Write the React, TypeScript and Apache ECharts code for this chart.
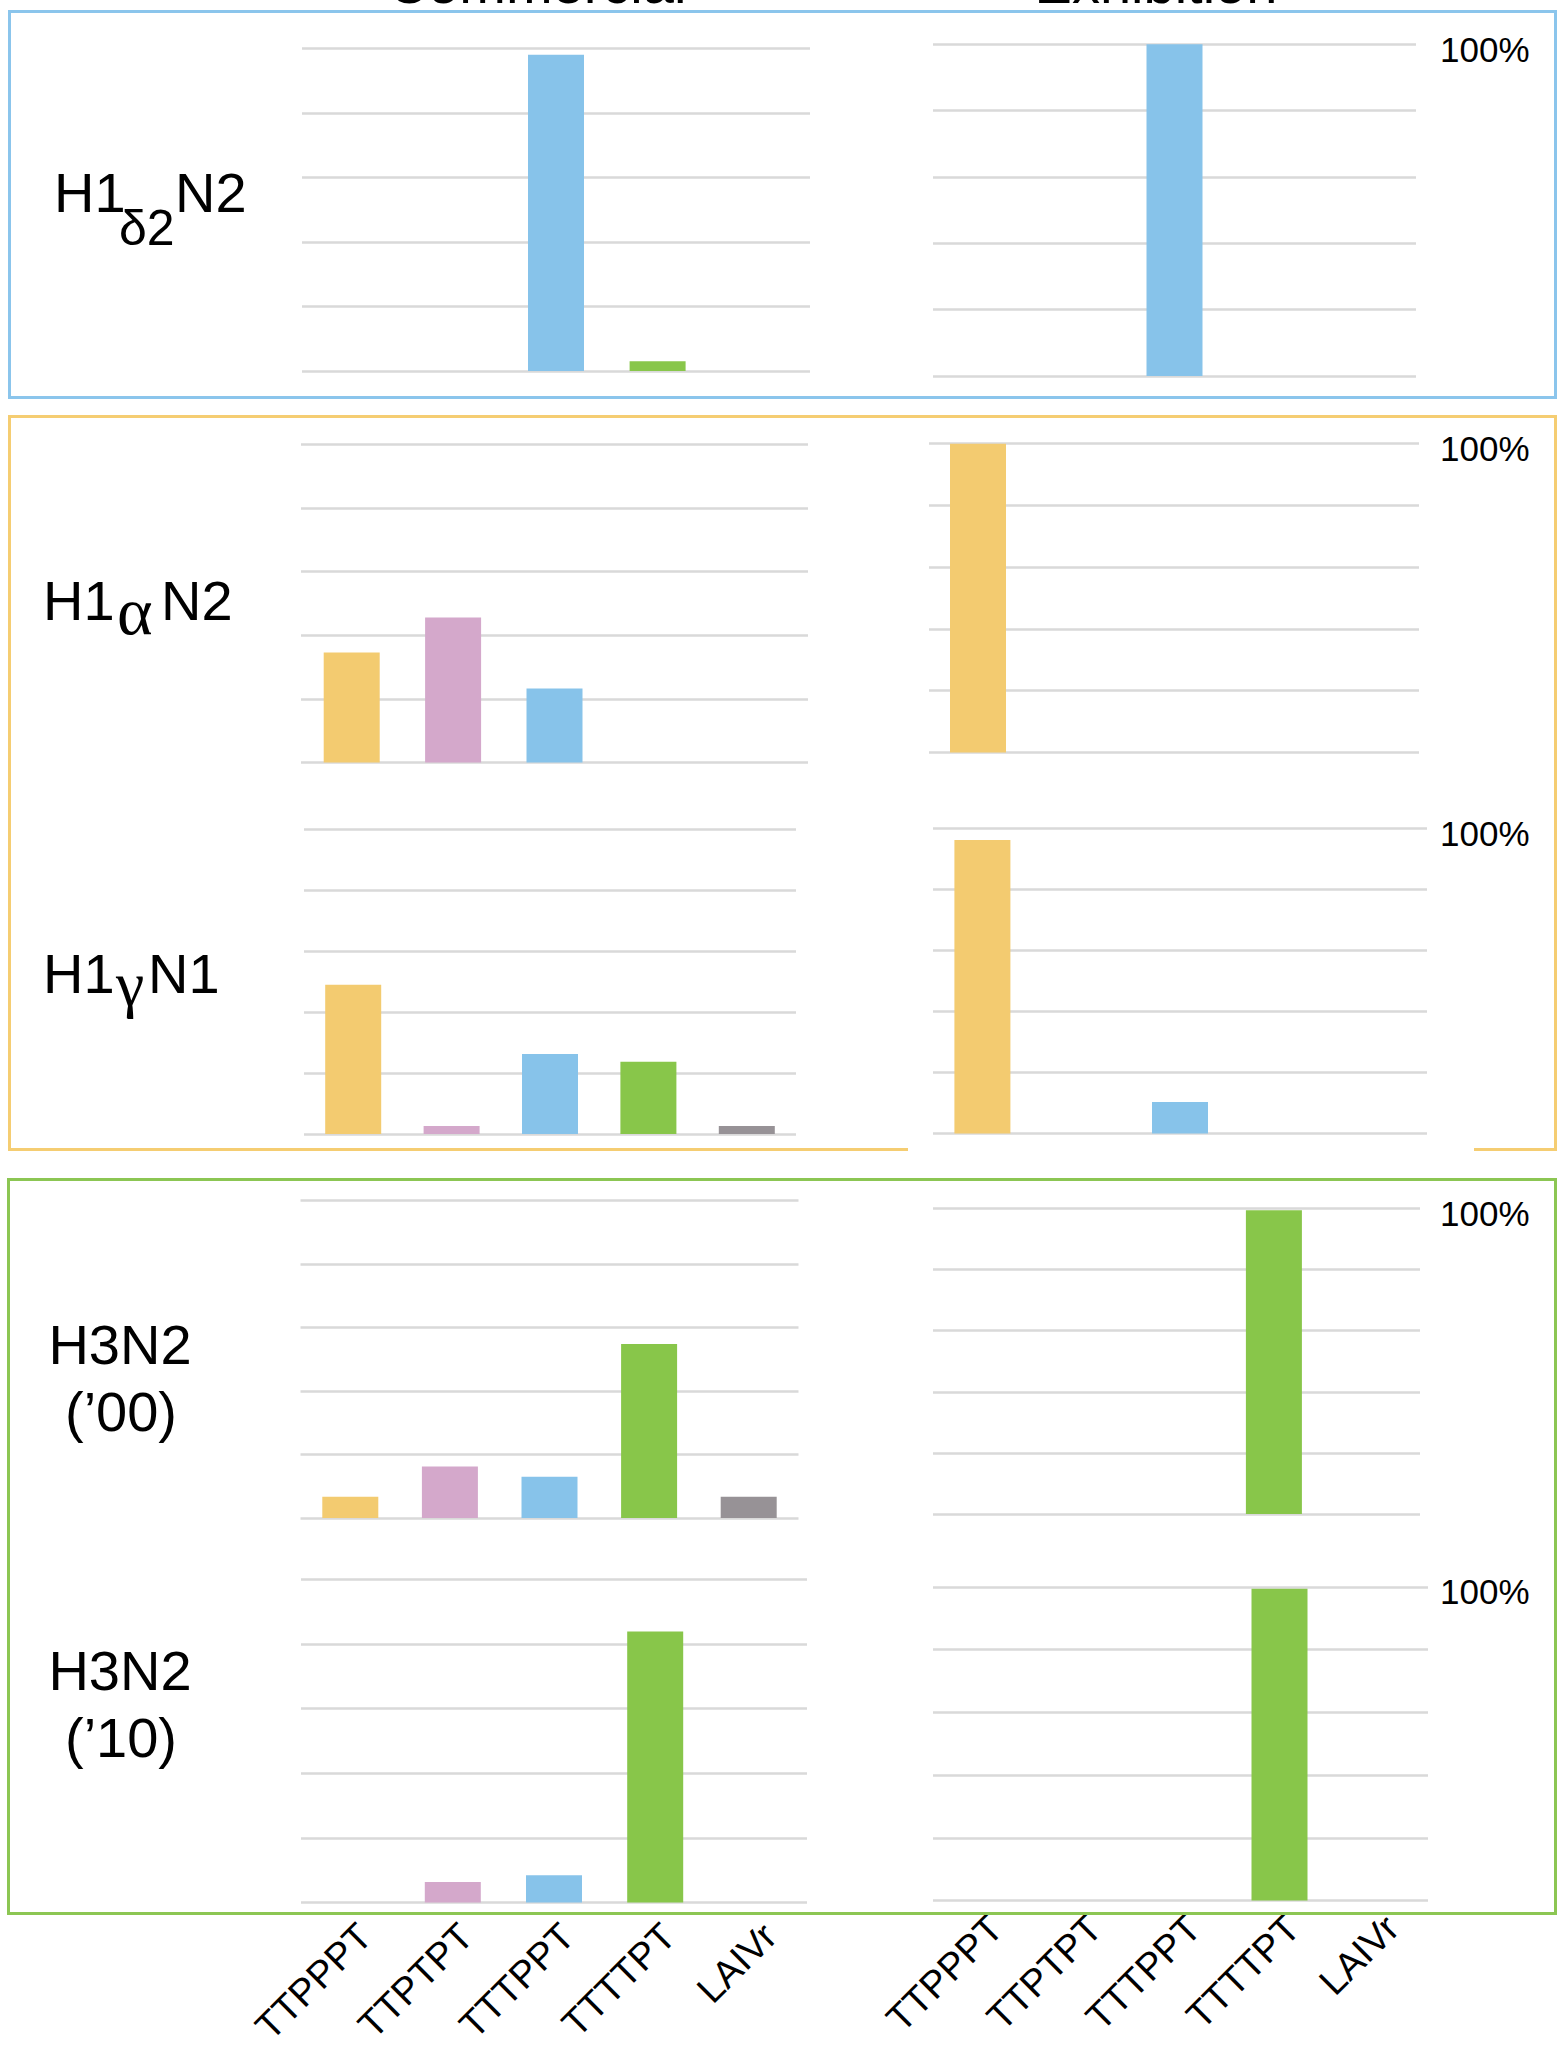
import React, { useEffect, useRef } from "react";
import * as echarts from "echarts";

// ---------- data ----------
const categories = ["TTPPPT", "TTPTPT", "TTTPPT", "TTTTPT", "LAIVr"];
const barColors = ["#F3CB70", "#D4A8CB", "#87C3EA", "#88C64A", "#979296"];
const yTicks = [0, 20, 40, 60, 80, 100];
const columnTitles = ["Commercial", "Exhibition"];

const h1d2n2Commercial = [0, 0, 98, 3, 0];
const h1d2n2Exhibition = [0, 0, 100, 0, 0];
const h1aN2Commercial = [34.6, 45.6, 23.3, 0, 0];
const h1aN2Exhibition = [100, 0, 0, 0, 0];
const h1gN1Commercial = [49, 2.6, 26.3, 23.7, 2.6];
const h1gN1Exhibition = [96.1, 0, 10.3, 0, 0];
const h3n2_00Commercial = [6.7, 16.2, 13, 54.8, 6.7];
const h3n2_00Exhibition = [0, 0, 0, 99.4, 0];
const h3n2_10Commercial = [0, 6.3, 8.4, 83.9, 0];
const h3n2_10Exhibition = [0, 0, 0, 99.4, 0];

// ---------- layout ----------
const W = 1559;
const H = 2047;
const SANS = '"Liberation Sans", Arial, Helvetica, sans-serif';
const SERIF = '"Liberation Serif", "Times New Roman", serif';

type Panel = {
  values: number[];
  left: number;
  top: number;
  width: number;
  height: number;
  exhibition: boolean;
  bottom: boolean;
  labelMargin?: number;
};

const panels: Panel[] = [
  { values: h1d2n2Commercial, left: 302, top: 48.3, width: 508, height: 322.7, exhibition: false, bottom: false },
  { values: h1d2n2Exhibition, left: 933, top: 44.3, width: 483, height: 331.7, exhibition: true, bottom: false },
  { values: h1aN2Commercial, left: 301, top: 444.2, width: 507, height: 318.4, exhibition: false, bottom: false },
  { values: h1aN2Exhibition, left: 929, top: 443.7, width: 490, height: 308.7, exhibition: true, bottom: false },
  { values: h1gN1Commercial, left: 304, top: 829.6, width: 492, height: 304.4, exhibition: false, bottom: false },
  { values: h1gN1Exhibition, left: 933, top: 828.2, width: 494, height: 305.3, exhibition: true, bottom: false },
  { values: h3n2_00Commercial, left: 300.5, top: 1200.5, width: 498, height: 317.5, exhibition: false, bottom: false },
  { values: h3n2_00Exhibition, left: 933, top: 1208.3, width: 487, height: 305.8, exhibition: true, bottom: false },
  { values: h3n2_10Commercial, left: 301, top: 1579.6, width: 506, height: 322.8, exhibition: false, bottom: true, labelMargin: 14 },
  { values: h3n2_10Exhibition, left: 933, top: 1586.9, width: 495, height: 313.6, exhibition: true, bottom: true, labelMargin: 8 },
];

// text pieces: [text, x, baseline, fontSize, family, align]
type Piece = [string, number, number, number, string, string];
const rowLabelPieces: Piece[] = [
  ["H1", 54, 212, 56, SANS, "left"],
  ["δ2", 119, 245, 50, SANS, "left"],
  ["N2", 175, 212, 56, SANS, "left"],
  ["H1", 43, 620, 56, SANS, "left"],
  ["α", 117, 634, 68, SERIF, "left"],
  ["N2", 161, 620, 56, SANS, "left"],
  ["H1", 43, 993, 56, SANS, "left"],
  ["γ", 116, 1005, 64, SERIF, "left"],
  ["N1", 148, 993, 56, SANS, "left"],
  ["H3N2", 120, 1364, 56, SANS, "center"],
  ["(’00)", 121, 1431, 56, SANS, "center"],
  ["H3N2", 120, 1690, 56, SANS, "center"],
  ["(’10)", 121, 1757, 56, SANS, "center"],
  [columnTitles[0], 537, 3, 56, SANS, "center"],
  [columnTitles[1], 1156, 3, 56, SANS, "center"],
];

function textEl(p: Piece) {
  const [text, x, baseline, fs, family, align] = p;
  const k = family === SERIF ? 0.3375 : 0.3465;
  return {
    type: "text",
    z: 10,
    style: {
      text,
      x,
      y: baseline - k * fs,
      font: `${fs}px ${family}`,
      fill: "#000000",
      textAlign: align,
      align,
      textVerticalAlign: "middle",
      verticalAlign: "middle",
    },
  };
}

function buildOption() {
  const grid = panels.map((p) => ({
    left: p.left,
    top: p.top,
    width: p.width,
    height: p.height,
    containLabel: false,
    outerBoundsMode: "none",
  }));
  const xAxis = panels.map((p, i) => ({
    type: "category",
    gridIndex: i,
    data: categories,
    boundaryGap: true,
    axisLine: { show: false },
    axisTick: { show: false },
    splitLine: { show: false },
    axisLabel: {
      show: p.bottom,
      rotate: 45,
      interval: 0,
      align: "right",
      verticalAlign: "top",
      margin: p.labelMargin ?? 15,
      fontSize: 38,
      fontFamily: SANS,
      color: "#000000",
      hideOverlap: false,
    },
  }));
  const yAxis = panels.map((p, i) => ({
    type: "value",
    gridIndex: i,
    min: yTicks[0],
    max: yTicks[yTicks.length - 1],
    interval: yTicks[1] - yTicks[0],
    position: p.exhibition ? "right" : "left",
    axisLine: { show: false },
    axisTick: { show: false },
    splitLine: { show: true, lineStyle: { color: "#D9D9D9", width: 2.5 } },
    axisLabel: {
      show: p.exhibition,
      showMaxLabel: true,
      margin: 1440 - (p.left + p.width),
      fontSize: 35,
      lineHeight: 10,
      verticalAlign: "top",
      fontFamily: SANS,
      color: "#000000",
      formatter: (v: number) => (v === 100 ? "100%" : ""),
    },
  }));
  const series = panels.map((p, i) => ({
    type: "bar",
    xAxisIndex: i,
    yAxisIndex: i,
    barWidth: 56,
    data: p.values.map((v, j) => ({ value: v, itemStyle: { color: barColors[j] } })),
  }));

  const graphic: any[] = [
    {
      type: "rect",
      z: 5,
      shape: { x: 9.5, y: 11.5, width: 1546, height: 386 },
      style: { fill: "none", stroke: "#8BC5EC", lineWidth: 3 },
    },
    {
      type: "rect",
      z: 5,
      shape: { x: 9.5, y: 416.5, width: 1546, height: 733 },
      style: { fill: "none", stroke: "#F5CD72", lineWidth: 3 },
    },
    {
      type: "rect",
      z: 6,
      shape: { x: 908, y: 1146, width: 566, height: 8 },
      style: { fill: "#FFFFFF", stroke: "none" },
    },
    {
      type: "rect",
      z: 5,
      shape: { x: 8.5, y: 1179.5, width: 1547, height: 734 },
      style: { fill: "none", stroke: "#8CC653", lineWidth: 3 },
    },
    ...rowLabelPieces.map(textEl),
  ];

  return {
    animation: false,
    backgroundColor: "#FFFFFF",
    grid,
    xAxis,
    yAxis,
    series,
    graphic,
  };
}

export default function App() {
  const ref = useRef<HTMLDivElement>(null);
  useEffect(() => {
    if (!ref.current) return;
    const chart = echarts.init(ref.current, null, { renderer: "svg" });
    chart.setOption(buildOption() as any);
    return () => chart.dispose();
  }, []);
  return (
    <div
      ref={ref}
      style={{ position: "absolute", left: 0, top: 0, width: W, height: H, background: "#FFFFFF" }}
    />
  );
}
